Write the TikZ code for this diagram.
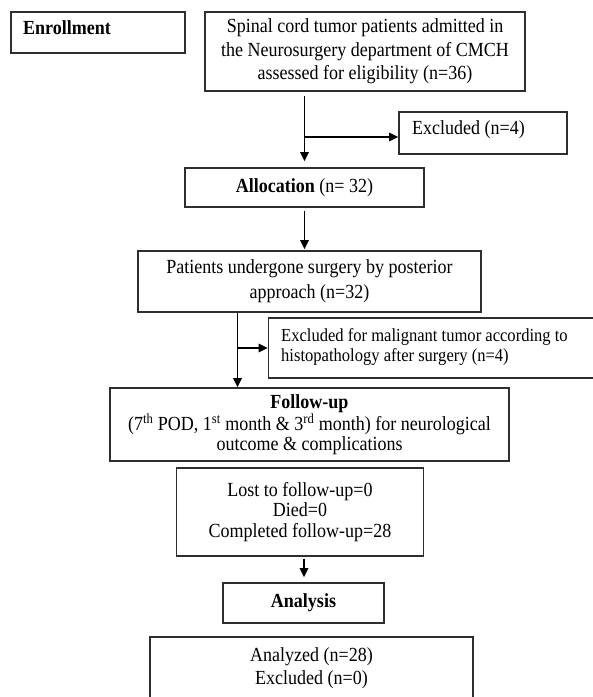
\documentclass[tikz,border=0pt]{standalone}
\usepackage{fontspec}
\setmainfont[FakeStretch=0.9]{Liberation Serif}
\usetikzlibrary{arrows.meta,calc}
\definecolor{boxc}{HTML}{2E2E2E}
\tikzset{
  box/.style={draw=boxc, line width=1.6pt, inner sep=0pt, align=center},
  conn/.style={line width=1.6pt, -{Triangle[length=9pt,width=8.5pt]}},
  txt/.style={inner sep=0pt, align=left},
  fmain/.style={font=\fontsize{20}{23}\selectfont},
}
\begin{document}
\begin{tikzpicture}[x=1pt,y=-1pt]
\useasboundingbox (0,0) rectangle (593,697);
\clip (0,0) rectangle (593,697);
\fill[white] (0,0) rectangle (593,697);

% Enrollment
\node[box, minimum width=174pt, minimum height=41pt] (enr) at (98,32.5) {};
\node[txt, anchor=base west, font=\fontsize{20}{23}\selectfont\bfseries] (enrt) at (23,34.6) {Enrollment};

% Spinal cord
\node[box, minimum width=320pt, minimum height=79pt, font=\fontsize{20}{23.3}\selectfont] (spin) at (365,51.5)
  {Spinal cord tumor patients admitted in\\the Neurosurgery department of CMCH\\assessed for eligibility (n=36)};

% Excluded n=4
\node[box, minimum width=168pt, minimum height=42pt] (exc1) at (483,133) {};
\node[txt, anchor=base west, fmain] (exc1t) at (412,134.6) {Excluded (n=4)};

% Allocation
\node[box, minimum width=239pt, minimum height=39pt, fmain] (alloc) at (304.5,187.5) {\textbf{Allocation} (n= 32)};

% Patients
\node[box, minimum width=343pt, minimum height=61pt, font=\fontsize{20}{25}\selectfont] (pat) at (309.5,281.5)
  {Patients undergone surgery by posterior\\approach (n=32)};

% Malignant excluded
\node[box, minimum width=351pt, minimum height=60pt] (mal) at (444,348) {};
\node[txt, anchor=west, font=\fontsize{18.4}{20}\selectfont] (malt) at (281,346.7)
  {Excluded for malignant tumor according to\\histopathology after surgery (n=4)};

% Follow-up
\node[box, minimum width=399pt, minimum height=73pt, font=\fontsize{20}{20}\selectfont] (fol) at (309.5,424.5)
  {\textbf{Follow-up}\\(7\textsuperscript{th} POD, 1\textsuperscript{st} month \& 3\textsuperscript{rd} month) for neurological\\outcome \& complications};

% Lost
\node[box, minimum width=247pt, minimum height=88pt, font=\fontsize{20}{20.5}\selectfont] (lost) at (300,512)
  {Lost to follow-up=0\\Died=0\\Completed follow-up=28};

% Analysis
\node[box, minimum width=161pt, minimum height=40pt, fmain] (ana) at (303.5,603) {\textbf{Analysis}};

% Analyzed
\node[box, minimum width=323pt, minimum height=93pt] (anz) at (311.5,683.5) {};
\node[inner sep=0pt, align=center, fmain] (anzt) at (311.5,668.3) {Analyzed (n=28)\\Excluded (n=0)};

% connectors
\coordinate (b1) at (304.5,137);
\draw[conn, shorten <=4pt, shorten >=6pt] (alloc.north |- spin.south) -- (alloc.north);
\draw[conn] (b1) -- (b1 -| exc1.west);

\draw[conn, shorten <=3pt, shorten >=1pt] (alloc.south) -- (alloc.south |- pat.north);

\coordinate (v3) at (237.5,312);
\coordinate (b3) at (237.5,348);
\draw[conn] (pat.south -| v3) -- (fol.north -| v3);
\draw[conn] (b3) -- (b3 -| mal.west);

\coordinate (v4) at (304,556);
\draw[conn, shorten <=2pt, shorten >=5pt] (lost.south -| v4) -- (ana.north -| v4);
\end{tikzpicture}
\end{document}
